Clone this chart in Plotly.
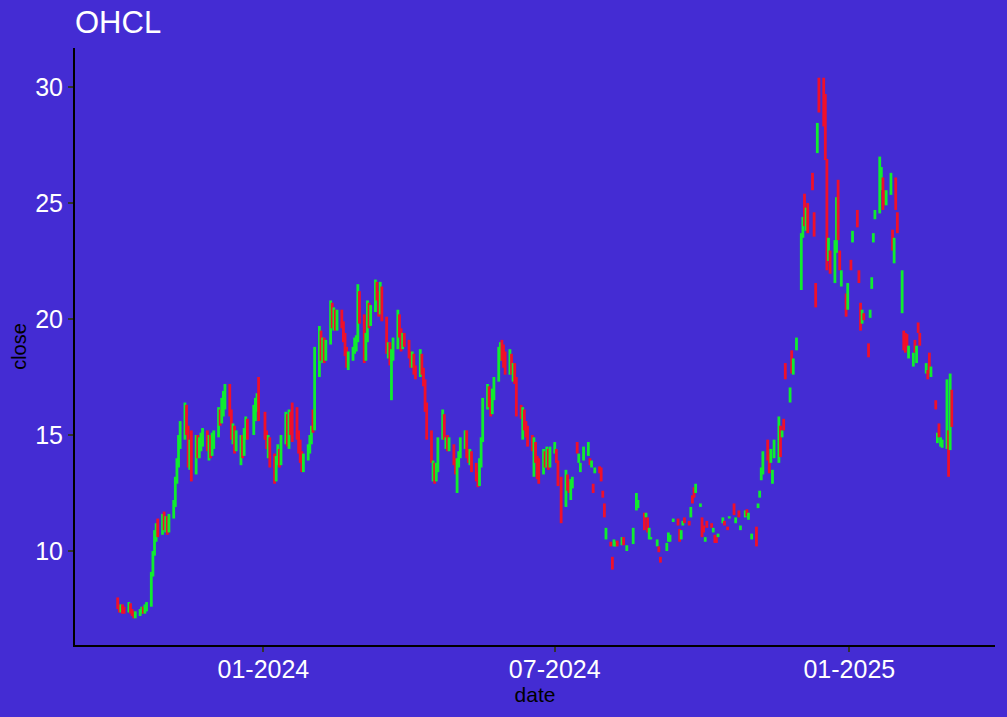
import pandas as pd
import plotly.graph_objects as go

N = None
# one row per week (Mon..Fri), starting Monday 2023-10-02
open_ = [
    7.9, 7.6, 7.4, 7.6, 7.5,
    7.4, 7.7, 7.4, 7.3, 7.2,
    7.3, 7.4, 7.5, 7.4, 7.5,
    7.7, 9.0, 9.9, 10.6, 11.1,
    10.8, 11.4, 11.0, 11.3, 10.9,
    11.5, 12.0, 13.0, 13.8, 14.8,
    15.0, 16.2, 15.2, 13.8, 14.6,
    13.4, 14.8, 14.2, 14.6, 14.8,
    15.0, 14.4, 14.8, 14.2, 14.9,
    15.0, 16.0, 15.6, 16.4, 16.6,
    17.0, 16.0, 15.0, 15.3, 14.4,
    14.0, 14.8, 14.3, 15.1, 15.5,
    N, 15.2, 16.1, 16.4, 17.3,
    N, 15.8, 15.0, 14.5, 14.8,
    13.8, 13.1, 13.9, 14.3, 13.8,
    14.8, 15.8, 14.8, 15.9, 15.4,
    15.6, 15.0, 14.4, 14.0, 13.6,
    14.0, 14.5, 14.9, 15.9, 15.3,
    18.0, 19.4, 18.5, 19.0, 18.4,
    19.0, 20.5, 19.8, 20.3, 19.7,
    20.2, 19.8, 19.2, 18.6, 18.1,
    18.3, 18.7, 19.0, 19.2, 21.0,
    20.0, 18.4, 19.2, 20.5, 19.9,
    20.4, 21.4, 21.0, 20.3, 21.3,
    20.0, 18.6, 18.9, 17.0, 18.4,
    19.0, 20.1, 19.4, 18.8, 19.2,
    19.0, 18.5, 18.1, 18.4, 17.8,
    17.6, 18.4, 17.8, 17.3, 16.2,
    15.0, 13.2, 13.7, 13.1, 13.6,
    14.9, 15.8, 14.7, 14.9, 14.4,
    14.5, 13.9, 12.8, 13.8, 14.1,
    14.6, 15.0, 14.2, 13.9, 14.2,
    13.6, 13.2, 12.9, 13.8, 14.8,
    16.3, 16.9, 16.4, 16.0, 16.8,
    17.4, 18.6, 19.0, 18.4, 18.2,
    17.8, 18.4, 17.7, 18.0, 17.4,
    16.2, 15.2, 16.0, 15.4, 15.3,
    14.9, 14.0, 14.6, 14.0, 13.5,
    13.4, 14.2, 13.8, 14.3, 13.7,
    14.3, 14.4, 13.9, N, 13.0,
    11.9, 13.2, 12.8, 12.3, 12.9,
    14.6, 13.9, 13.4, N, 14.0,
    14.2, 14.0, 13.7, 12.9, 13.4,
    13.6, 13.6, 12.6, 12.05, 10.5,
    10.4, 9.75, 10.2, 10.25, 10.4,
    10.3, 10.6, N, 10.0, N,
    10.3, N, 11.8, 11.9, N,
    11.6, 11.45, 11.45, 10.5, 10.5,
    N, 10.2, 10.2, 9.75, N,
    10.0, 10.4, 10.4, N, 11.25,
    11.4, 10.95, 10.6, 11.1, 11.45,
    11.3, 11.45, 12.3, 12.75, 12.5,
    11.9, 11.45, 11.0, 10.4, 11.3,
    11.2, 10.8, 10.7, 10.55, 10.6,
    11.2, 11.3, N, 11.0, 11.4,
    12.05, 11.2, N, 11.75, 10.9,
    11.45, 11.75, 11.4, N, 10.5,
    11.05, 11.85, 12.3, 13.05, 13.4,
    14.8, 14.2, 13.85, 12.9, 14.05,
    13.8, 15.4, 14.9, 15.7, 18.1,
    16.4, 18.65, 17.6, N, 18.65,
    21.25, 23.5, 25.4, 23.8, 24.9,
    26.3, 24.25, 21.55, 27.6, 30.4,
    30.3, 29.7, 26.85, 22.5, 22.95,
    21.55, 22.85, 26.0, 22.95, 21.4,
    21.1, 20.4, N, 22.55, 23.3,
    24.7, 22.1, 20.7, 19.8, 20.25,
    18.95, 20.05, 21.3, 23.3, 24.3,
    24.55, 25.55, 26.1, 25.55, 24.9,
    25.35, 23.85, 22.4, 26.1, 24.6,
    20.25, 19.5, 19.4, 19.3, 18.3,
    17.95, 19.1, 18.1, 19.85, 19.4,
    N, 17.65, 17.8, 18.55, 17.5,
    16.5, 14.65, 15.5, 14.5, 14.5,
    14.5, 15.1, 14.35, 16.95, N,
]
high = [
    8.0, 7.7, 7.7, 7.7, 7.6,
    7.8, 7.75, 7.5, 7.4, 7.4,
    7.5, 7.6, 7.6, 7.7, 7.8,
    9.1, 10.0, 10.9, 11.2, 11.4,
    11.6, 11.7, 11.5, 11.5, 11.6,
    12.2, 13.2, 14.0, 15.0, 15.6,
    16.4, 16.3, 15.4, 14.8, 15.2,
    15.0, 15.0, 14.9, 15.1, 15.3,
    15.2, 15.0, 15.0, 15.1, 15.2,
    16.2, 16.1, 16.6, 16.9, 17.2,
    17.2, 16.1, 15.5, 15.4, 15.2,
    15.0, 15.0, 15.3, 15.8, 15.7,
    N, 16.3, 16.6, 16.8, 17.5,
    N, 16.0, 15.2, 15.0, 14.9,
    14.2, 14.1, 14.6, 14.4, 15.0,
    16.0, 15.9, 16.1, 16.0, 16.4,
    16.2, 15.2, 14.8, 14.3, 14.2,
    14.6, 15.0, 15.4, 16.1, 18.8,
    19.7, 19.5, 19.2, 19.2, 19.1,
    20.8, 20.7, 20.5, 20.4, 20.4,
    20.4, 19.9, 19.4, 18.8, 18.6,
    18.8, 19.2, 19.3, 21.5, 21.2,
    20.2, 19.4, 20.8, 20.7, 20.6,
    21.7, 21.6, 21.2, 21.6, 21.4,
    20.1, 19.0, 19.0, 18.7, 19.2,
    20.4, 20.2, 19.6, 19.4, 19.4,
    19.1, 18.6, 18.6, 18.5, 18.0,
    18.7, 18.5, 17.9, 17.4, 16.4,
    15.2, 13.9, 13.8, 13.8, 14.9,
    16.1, 15.9, 14.9, 15.0, 14.9,
    14.6, 14.0, 14.0, 14.3, 14.9,
    15.2, 15.2, 14.4, 14.4, 14.3,
    13.8, 13.4, 14.0, 14.9, 16.6,
    17.2, 17.1, 16.6, 17.0, 17.5,
    18.8, 19.0, 19.1, 18.9, 18.6,
    18.7, 18.5, 18.1, 18.1, 17.5,
    16.3, 16.2, 16.1, 15.6, 15.4,
    15.0, 14.9, 14.7, 14.1, 14.0,
    14.4, 14.3, 14.5, 14.4, 14.5,
    14.7, 14.4, 13.9, N, 13.2,
    13.5, 13.3, 13.0, 13.1, 13.2,
    14.7, 14.2, 13.8, N, 14.5,
    14.7, 14.0, 13.9, 12.9, 13.6,
    13.65, 13.6, 12.6, 12.05, 11.0,
    10.4, 9.75, 10.5, 10.4, 10.45,
    10.6, 10.6, N, 10.25, N,
    11.0, N, 12.5, 12.2, N,
    11.65, 11.65, 11.45, 11.0, 10.6,
    N, 10.5, 10.2, 9.75, N,
    10.35, 10.8, 10.7, N, 11.4,
    11.4, 10.95, 10.9, 11.3, 11.45,
    11.3, 11.9, 12.4, 12.75, 12.9,
    12.05, 11.45, 11.1, 10.6, 11.3,
    11.2, 11.0, 10.7, 10.6, 10.75,
    11.45, 11.3, N, 11.05, 11.5,
    12.05, 11.45, N, 11.75, 11.1,
    11.75, 11.8, 11.65, N, 10.75,
    11.05, 12.05, 12.6, 13.6, 14.3,
    14.8, 14.2, 14.4, 13.5, 14.8,
    15.8, 15.4, 15.2, 15.7, 18.1,
    17.05, 18.65, 18.3, N, 19.2,
    23.7, 24.4, 25.4, 24.8, 25.0,
    26.3, 24.6, 21.55, 28.45, 30.4,
    30.4, 29.7, 26.9, 23.5, 22.95,
    23.4, 25.25, 26.0, 22.95, 22.1,
    21.1, 21.55, N, 22.55, 23.8,
    24.7, 22.1, 20.7, 20.4, 20.25,
    18.95, 20.4, 21.8, 23.7, 24.7,
    27.0, 26.55, 26.1, 25.55, 25.55,
    26.3, 23.85, 23.5, 26.1, 24.6,
    22.1, 19.5, 19.4, 19.35, 18.85,
    18.55, 19.1, 18.85, 19.85, 19.4,
    N, 18.1, 17.8, 18.55, 17.95,
    16.5, 15.1, 15.5, 14.9, 14.8,
    17.4, 15.2, 17.65, 16.95, N,
]
low = [
    7.5, 7.35, 7.35, 7.3, 7.3,
    7.35, 7.3, 7.2, 7.1, 7.1,
    7.2, 7.3, 7.3, 7.3, 7.4,
    7.6, 8.9, 9.8, 10.4, 10.6,
    10.7, 10.9, 10.8, 10.7, 10.8,
    11.4, 11.9, 12.9, 13.6, 14.4,
    14.8, 15.0, 13.6, 13.5, 13.0,
    13.3, 14.0, 14.0, 14.3, 14.5,
    14.3, 13.9, 14.0, 14.1, 14.4,
    14.9, 15.4, 15.5, 15.8, 16.1,
    15.8, 14.8, 14.6, 14.2, 14.3,
    13.7, 14.0, 14.1, 14.8, 14.8,
    N, 15.0, 15.6, 16.0, 15.6,
    N, 14.8, 14.4, 14.0, 13.6,
    12.9, 13.0, 13.7, 13.6, 13.7,
    14.6, 14.5, 14.4, 15.0, 14.7,
    14.8, 14.2, 13.8, 13.4, 13.4,
    13.9, 14.2, 14.6, 15.1, 15.2,
    17.5, 18.2, 18.1, 18.1, 18.2,
    18.9, 19.6, 19.5, 19.5, 19.5,
    19.6, 19.0, 18.4, 17.9, 17.8,
    18.2, 18.5, 18.6, 19.0, 19.8,
    18.1, 18.2, 19.0, 19.6, 19.7,
    20.3, 20.8, 20.1, 20.2, 19.9,
    18.5, 18.3, 18.0, 16.5, 18.2,
    18.7, 19.2, 18.6, 18.7, 18.8,
    18.3, 17.9, 17.9, 17.6, 17.4,
    17.5, 17.6, 17.1, 16.0, 14.8,
    13.8, 13.0, 12.9, 13.0, 13.4,
    14.8, 14.8, 14.4, 14.3, 14.3,
    13.7, 13.3, 12.5, 13.6, 14.0,
    14.4, 14.0, 13.8, 13.7, 13.4,
    13.0, 12.75, 12.8, 13.6, 14.7,
    16.1, 16.2, 15.8, 15.9, 16.5,
    17.3, 18.2, 18.2, 17.9, 17.6,
    17.6, 17.6, 17.3, 17.2, 15.8,
    15.7, 14.8, 15.2, 14.9, 14.5,
    14.3, 13.2, 13.8, 13.1, 12.9,
    13.3, 13.6, 13.6, 13.5, 13.6,
    14.2, 13.8, 12.8, N, 11.2,
    11.9, 12.6, 12.5, 12.2, 12.7,
    14.2, 13.8, 13.4, N, 13.9,
    14.1, 13.7, 13.6, 12.5, 13.35,
    13.35, 13.0, 12.3, 11.45, 10.5,
    10.2, 9.2, 10.2, 10.2, 10.2,
    10.25, 10.25, N, 10.0, N,
    10.3, N, 11.75, 11.85, N,
    10.9, 11.45, 10.8, 10.5, 10.5,
    N, 10.2, 9.95, 9.5, N,
    10.0, 10.4, 10.4, N, 11.25,
    11.1, 10.4, 10.5, 11.1, 11.2,
    11.1, 11.45, 12.05, 12.3, 12.5,
    11.9, 10.6, 10.8, 10.4, 11.0,
    11.0, 10.8, 10.35, 10.35, 10.6,
    11.2, 11.1, N, 10.9, 11.4,
    11.55, 11.2, N, 11.45, 10.9,
    11.45, 11.5, 11.35, N, 10.5,
    10.2, 11.85, 12.3, 13.05, 13.3,
    13.9, 13.35, 13.8, 12.9, 14.0,
    13.8, 14.05, 14.9, 15.2, 17.4,
    16.4, 17.65, 17.6, N, 18.65,
    21.25, 23.5, 24.0, 23.8, 23.7,
    25.55, 23.55, 20.5, 27.15, 28.9,
    28.3, 26.85, 22.1, 22.5, 21.95,
    21.55, 22.85, 23.4, 22.1, 21.4,
    20.1, 20.4, N, 22.1, 23.3,
    23.95, 21.55, 19.5, 19.8, 19.95,
    18.35, 20.05, 21.3, 23.3, 24.3,
    24.55, 25.55, 24.7, 24.9, 24.9,
    25.35, 22.95, 22.4, 24.7, 23.7,
    20.25, 18.65, 18.55, 18.8, 18.3,
    17.95, 18.55, 18.1, 19.4, 18.85,
    N, 17.65, 17.4, 17.65, 17.5,
    16.1, 14.65, 14.9, 14.5, 14.45,
    14.4, 13.2, 14.35, 15.35, N,
]
close = [
    7.6, 7.4, 7.6, 7.4, 7.35,
    7.7, 7.4, 7.3, 7.2, 7.3,
    7.4, 7.5, 7.4, 7.6, 7.7,
    9.0, 9.9, 10.7, 11.0, 10.8,
    11.4, 11.0, 11.3, 10.9, 11.5,
    12.0, 13.0, 13.8, 14.8, 15.4,
    16.2, 15.2, 13.8, 14.6, 13.3,
    14.8, 14.2, 14.6, 14.9, 15.0,
    14.5, 14.8, 14.2, 14.9, 15.0,
    16.0, 15.6, 16.4, 16.7, 17.0,
    16.0, 15.0, 15.3, 14.4, 14.9,
    14.8, 14.3, 15.1, 15.5, 15.0,
    N, 16.1, 16.4, 16.6, 15.8,
    N, 15.0, 14.6, 14.8, 13.8,
    13.1, 13.9, 14.3, 13.8, 14.8,
    15.8, 14.8, 15.9, 15.2, 14.9,
    15.0, 14.4, 14.0, 13.6, 14.0,
    14.5, 14.9, 15.2, 15.3, 18.5,
    19.4, 18.5, 19.0, 18.4, 18.9,
    20.5, 19.8, 20.3, 19.7, 20.2,
    19.8, 19.2, 18.6, 18.1, 18.4,
    18.7, 19.0, 19.2, 21.0, 20.0,
    18.4, 19.2, 20.5, 19.9, 20.4,
    21.4, 21.0, 20.3, 21.3, 20.1,
    18.8, 18.9, 18.2, 18.4, 19.0,
    20.1, 19.4, 18.8, 19.2, 19.0,
    18.5, 18.1, 18.4, 17.8, 17.6,
    18.4, 17.8, 17.3, 16.2, 15.0,
    14.0, 13.7, 13.1, 13.6, 14.6,
    15.8, 15.0, 14.8, 14.5, 14.7,
    13.9, 13.5, 13.8, 14.1, 14.7,
    15.0, 14.2, 14.0, 14.2, 13.6,
    13.2, 12.9, 13.8, 14.7, 16.3,
    16.9, 16.4, 16.0, 16.8, 17.3,
    18.6, 18.9, 18.4, 18.1, 17.8,
    18.4, 17.8, 18.0, 17.4, 16.0,
    15.9, 16.0, 15.4, 15.1, 14.7,
    14.5, 14.6, 14.0, 13.3, 13.2,
    14.2, 13.8, 14.3, 13.7, 14.3,
    14.6, 13.9, 13.0, N, 11.5,
    13.2, 12.7, 12.6, 12.9, 13.0,
    14.3, 14.1, 13.7, N, 14.4,
    14.6, 13.8, 13.85, 12.6, 13.55,
    13.4, 13.1, 12.35, 11.5, 10.95,
    10.2, 9.25, 10.45, 10.35, 10.25,
    10.55, 10.3, N, 10.2, N,
    10.9, N, 12.4, 12.15, N,
    11.0, 11.6, 10.85, 10.95, 10.6,
    N, 10.45, 10.0, 9.55, N,
    10.3, 10.75, 10.65, N, 11.4,
    11.15, 10.45, 10.85, 11.25, 11.2,
    11.1, 11.85, 12.1, 12.35, 12.85,
    12.0, 10.7, 10.85, 10.6, 11.05,
    11.0, 10.95, 10.4, 10.4, 10.75,
    11.45, 11.1, N, 10.9, 11.5,
    11.6, 11.4, N, 11.5, 11.05,
    11.7, 11.55, 11.6, N, 10.7,
    10.3, 12.0, 12.55, 13.5, 14.1,
    14.0, 13.5, 14.3, 13.4, 14.7,
    15.6, 14.2, 15.1, 15.25, 17.45,
    17.0, 17.7, 18.2, N, 19.1,
    23.5, 24.3, 24.1, 24.7, 23.8,
    25.6, 23.6, 20.6, 28.1, 29.0,
    28.5, 27.0, 22.3, 23.4, 22.0,
    23.2, 25.0, 23.5, 22.15, 22.0,
    20.2, 21.4, N, 22.15, 23.7,
    24.0, 21.6, 19.6, 20.3, 20.0,
    18.4, 20.35, 21.75, 23.65, 24.65,
    26.8, 26.4, 24.8, 24.95, 25.5,
    26.2, 23.0, 23.4, 24.8, 23.75,
    21.9, 18.7, 18.6, 18.85, 18.8,
    18.5, 18.6, 18.8, 19.45, 18.9,
    N, 18.05, 17.45, 17.7, 17.9,
    16.15, 15.05, 14.95, 14.85, 14.7,
    17.2, 13.4, 17.5, 15.4, N,
]

dates = pd.bdate_range("2023-10-02", periods=len(close))

BG = "#442cd3"
UP = "#10ec30"
DOWN = "#f0102a"
FONT = "Liberation Sans, Arial, sans-serif"

fig = go.Figure(go.Ohlc(
    x=dates, open=open_, high=high, low=low, close=close,
    tickwidth=0,
    increasing=dict(line=dict(color=UP, width=2.8)),
    decreasing=dict(line=dict(color=DOWN, width=2.8)),
    hoverinfo="skip",
))

fig.update_layout(
    width=1007, height=717,
    paper_bgcolor=BG, plot_bgcolor=BG,
    margin=dict(l=75, r=12, t=48, b=72),
    showlegend=False,
    font=dict(family=FONT, color="white"),
    title=dict(text="OHCL", x=0, xref="paper", xanchor="left",
               y=1 - 22 / 717, yref="container", yanchor="middle",
               font=dict(size=31, color="white", family=FONT)),
)
fig.update_xaxes(
    range=["2023-09-05 08:00", "2025-04-02"],
    rangeslider_visible=False,
    tickvals=["2024-01-01", "2024-07-01", "2025-01-01"],
    ticktext=["01-2024", "07-2024", "01-2025"],
    showgrid=False, zeroline=False,
    showline=True, linecolor="black", linewidth=2,
    ticks="outside", ticklen=5, tickwidth=1.5, tickcolor="#333333",
    ticklabelstandoff=-4,
    tickfont=dict(size=25, color="white", family=FONT),
    title=dict(text="date", font=dict(size=21, color="black", family=FONT), standoff=1),
)
fig.update_yaxes(
    range=[5.95, 31.68],
    tickvals=[10, 15, 20, 25, 30],
    showgrid=False, zeroline=False,
    showline=True, linecolor="black", linewidth=2,
    ticks="outside", ticklen=5, tickwidth=1.5, tickcolor="#333333",
    tickfont=dict(size=25, color="white", family=FONT),
    title=dict(text="close", font=dict(size=20, color="black", family=FONT), standoff=3),
)

fig.write_html("out.html")
